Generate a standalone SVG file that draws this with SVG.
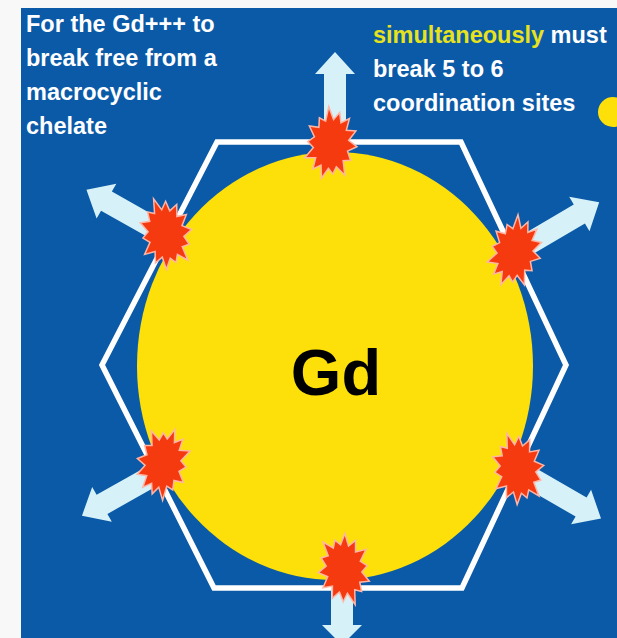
<svg xmlns="http://www.w3.org/2000/svg" xmlns:xlink="http://www.w3.org/1999/xlink" width="617" height="638" viewBox="0 0 617 638">
  <style>
    .label { font-family: "Liberation Sans", Arial, sans-serif; font-weight: bold; font-size: 23.5px; fill: #ffffff; }
    .hl { fill: #e8e21c; }
    .arrow { fill: #d6f2f8; }
    .burst { fill: #f53a10; stroke: #ffb6a6; stroke-width: 1.5; stroke-linejoin: miter; }
  </style>
  <defs>
    <!-- irregular starburst marking a broken coordination bond -->
    <polygon id="burst" points="26,0 17.2,5.4 21.1,14.1 13.8,15.3 17,29.6 7.7,22.1 4.9,29.8 0,24.5 -5.8,35.1 -7.7,22.1 -15.4,26.7 -13.8,15.3 -24.6,16.4 -17.2,5.4 -23.4,0 -17.2,-5.4 -23.4,-15.6 -13.8,-15.3 -14.3,-24.8 -7.7,-22.1 -6.1,-36.9 0,-24.5 5.3,-32.3 7.7,-22.1 15.7,-27.3 13.8,-15.3 23.4,-15.6 17.2,-5.4"/>
  </defs>

  <!-- page and slide background -->
  <rect x="0" y="0" width="617" height="638" fill="#f8f8f8"/>
  <rect x="21" y="8" width="596" height="630" fill="#0b5aa7"/>

  <!-- small yellow dot at the right edge -->
  <circle cx="613" cy="112" r="15" fill="#fde00a"/>

  <!-- Gd ion -->
  <g id="gd">
    <ellipse cx="335" cy="366" rx="198" ry="214" fill="#fde00a"/>
    <text x="336" y="395" text-anchor="middle" font-family="'Liberation Sans', Arial, sans-serif" font-weight="bold" font-size="65" fill="#000000">Gd</text>
  </g>

  <!-- macrocyclic chelate ring -->
  <g id="chelate">
    <polygon points="217,142 461,142 566,365 462,588 214,588 102,365" fill="none" stroke="#ffffff" stroke-width="5.5" stroke-linejoin="miter"/>
  </g>

  <!-- outward escape arrows -->
  <g id="arrows">
    <polygon class="arrow" transform="translate(335,140) rotate(-90)" points="0,-11 66,-11 66,-20 88,0 66,20 66,11 0,11"/>
    <polygon class="arrow" transform="translate(170,237) rotate(-150.5)" points="0,-11 73,-11 73,-20 96,0 73,20 73,11 0,11"/>
    <polygon class="arrow" transform="translate(513,253) rotate(-30.5)" points="0,-11 77,-11 77,-20 100,0 77,20 77,11 0,11"/>
    <polygon class="arrow" transform="translate(163,470) rotate(150.6)" points="0,-11 70,-11 70,-20 93,0 70,20 70,11 0,11"/>
    <polygon class="arrow" transform="translate(517,470) rotate(30)" points="0,-11 74,-11 74,-20 97,0 74,20 74,11 0,11"/>
    <polygon class="arrow" transform="translate(342,565) rotate(90)" points="0,-11 60,-11 60,-20 80,0 60,20 60,11 0,11"/>
  </g>

  <!-- coordination sites being broken -->
  <g id="site-top"><use xlink:href="#burst" class="burst" transform="translate(331,144) rotate(6)"/></g>
  <g id="site-upper-left"><use xlink:href="#burst" class="burst" transform="translate(166,234) rotate(-10)"/></g>
  <g id="site-upper-right"><use xlink:href="#burst" class="burst" transform="translate(515,252) rotate(14)"/></g>
  <g id="site-lower-left"><use xlink:href="#burst" class="burst" transform="translate(163,463) rotate(190)"/></g>
  <g id="site-lower-right"><use xlink:href="#burst" class="burst" transform="translate(518,469) rotate(-8)"/></g>
  <g id="site-bottom"><use xlink:href="#burst" class="burst" transform="translate(344,569) rotate(172)"/></g>

  <!-- captions -->
  <g id="caption-left">
    <text class="label" x="26" y="32">For the Gd+++ to</text>
    <text class="label" x="26" y="66">break free from a</text>
    <text class="label" x="26" y="100">macrocyclic</text>
    <text class="label" x="26" y="134">chelate</text>
  </g>
  <g id="caption-right">
    <text class="label" x="373" y="43"><tspan class="hl">simultaneously</tspan> must</text>
    <text class="label" x="373" y="77">break 5 to 6</text>
    <text class="label" x="373" y="111">coordination sites</text>
  </g>
</svg>
